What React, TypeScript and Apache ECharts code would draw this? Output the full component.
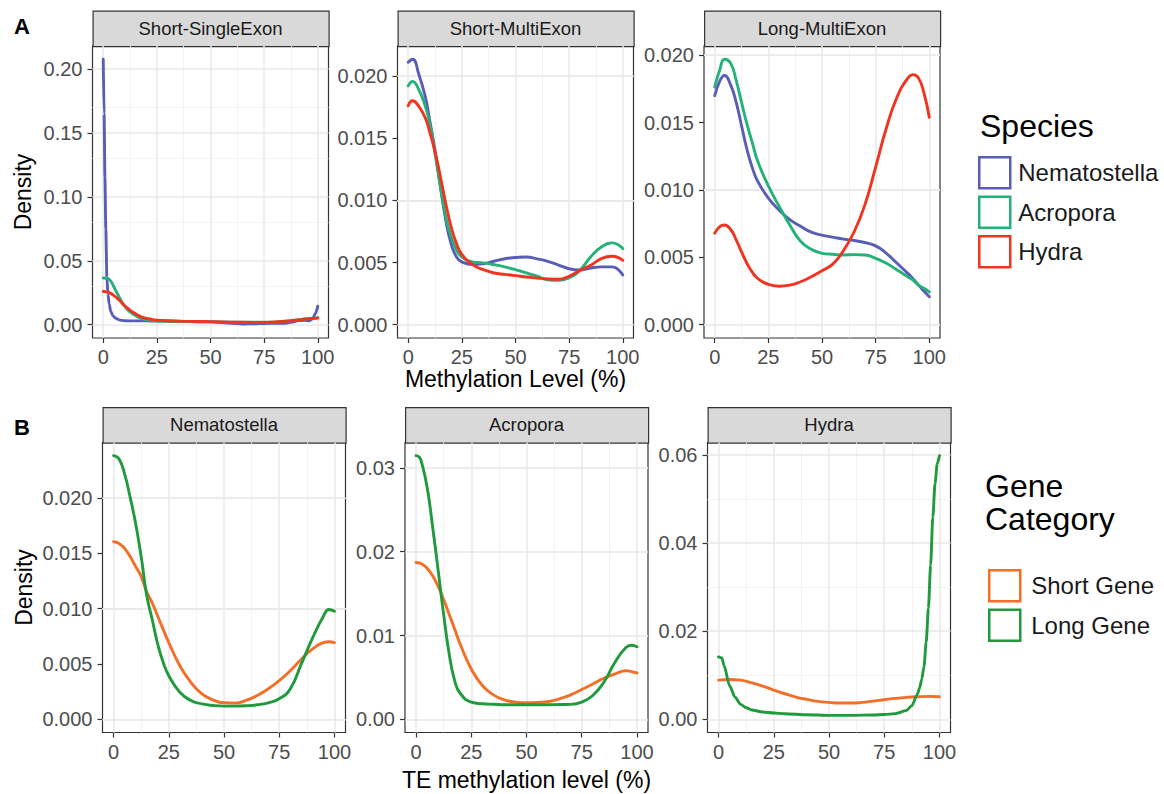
import { useEffect, useRef } from "react";
import * as echarts from "echarts";

const FONT = "'Liberation Sans', Arial, Helvetica, sans-serif";

// ---------- categories / labels ----------
const speciesNames = ["Nematostella", "Acropora", "Hydra"];
const speciesColors = ["#5a5db5", "#24b27a", "#f0341f"];
const geneNames = ["Short Gene", "Long Gene"];
const geneColors = ["#f36e26", "#1f9a3d"];
const rowATitles = ["Short-SingleExon", "Short-MultiExon", "Long-MultiExon"];
const rowBTitles = ["Nematostella", "Acropora", "Hydra"];
const xTicks = [0, 25, 50, 75, 100];
const xMinor = [12.5, 37.5, 62.5, 87.5];
const yTicksA1 = [0, 0.05, 0.1, 0.15, 0.2];
const yTicksA2 = [0, 0.005, 0.01, 0.015, 0.02];
const yTicksA3 = [0, 0.005, 0.01, 0.015, 0.02];
const yTicksB1 = [0, 0.005, 0.01, 0.015, 0.02];
const yTicksB2 = [0, 0.01, 0.02, 0.03];
const yTicksB3 = [0, 0.02, 0.04, 0.06];

// ---------- A1 Short-SingleExon ----------
const a1NemaX = [0, 0.4, 0.8, 1.2, 1.7, 2.2, 2.8, 3.5, 4.5, 5.6, 7.5, 10, 15, 20, 25, 30, 40, 50, 60, 65, 70, 75, 80, 85, 88, 91, 94, 96, 97.5, 99, 100];
const a1NemaY = [0.2075, 0.165, 0.115, 0.075, 0.037, 0.024, 0.016, 0.0105, 0.007, 0.0052, 0.0038, 0.0031, 0.003, 0.003, 0.0029, 0.0027, 0.0024, 0.0022, 0.0012, 0.0006, 0.0007, 0.001, 0.0012, 0.0012, 0.002, 0.0032, 0.0035, 0.003, 0.0045, 0.009, 0.0145];
const a1AcroX = [0, 2, 3.5, 5, 7, 9.5, 11.5, 13.3, 15, 17.2, 19, 21.1, 25, 30, 40, 50, 60, 70, 80, 85, 90, 95, 100];
const a1AcroY = [0.0365, 0.0362, 0.034, 0.0295, 0.023, 0.0158, 0.0115, 0.0091, 0.0072, 0.0052, 0.0043, 0.0036, 0.0031, 0.0028, 0.0024, 0.0022, 0.002, 0.0019, 0.002, 0.0028, 0.0038, 0.0048, 0.0055];
const a1HydrX = [0, 2, 3.3, 5, 6.4, 8, 9.5, 11.5, 13.3, 15, 17.2, 19, 21.1, 25, 29.6, 40, 50, 60, 70, 75, 80, 85, 90, 95, 100];
const a1HydrY = [0.026, 0.0257, 0.0247, 0.0228, 0.0208, 0.0183, 0.0156, 0.0128, 0.0104, 0.0086, 0.0065, 0.0054, 0.0047, 0.0036, 0.0031, 0.0026, 0.0024, 0.002, 0.0018, 0.0018, 0.0022, 0.0027, 0.0035, 0.0045, 0.0052];

// ---------- A2 Short-MultiExon ----------
const a2X = [0, 2, 5, 8, 10, 12.5, 15, 17.5, 20, 22.5, 25, 30, 35, 40, 45, 50, 55, 60, 65, 70, 75, 80, 85, 90, 95, 100];
const a2Nema = [0.0211, 0.02134, 0.0201, 0.0183, 0.01646, 0.014, 0.0111, 0.0084, 0.0065, 0.00545, 0.00505, 0.00483, 0.0049, 0.0051, 0.0053, 0.0054, 0.00545, 0.0053, 0.0051, 0.0048, 0.0045, 0.0044, 0.00456, 0.00465, 0.00465, 0.004];
const a2Acro = [0.0192, 0.01955, 0.01887, 0.01753, 0.0162, 0.01377, 0.0111, 0.00867, 0.00706, 0.006, 0.00545, 0.00505, 0.00497, 0.00483, 0.00465, 0.00443, 0.00416, 0.0039, 0.00362, 0.00357, 0.00378, 0.00437, 0.00545, 0.00625, 0.00658, 0.00612];
const a2Hydr = [0.0176, 0.018, 0.01753, 0.0166, 0.0155, 0.0139, 0.0119, 0.00975, 0.00787, 0.00652, 0.00566, 0.00483, 0.00443, 0.00416, 0.00405, 0.00395, 0.00384, 0.00376, 0.00368, 0.00365, 0.0039, 0.00437, 0.00478, 0.00532, 0.0055, 0.00518];

// ---------- A3 Long-MultiExon ----------
const a3X = [0, 2.5, 4.5, 7.5, 10, 12.5, 15, 17.5, 20, 25, 30, 35, 40, 45, 50, 55, 60, 65, 70, 75, 80, 85, 90, 92.5, 95, 97.5, 100];
const a3Nema = [0.017, 0.01813, 0.0185, 0.01776, 0.0165, 0.01477, 0.01303, 0.01166, 0.01066, 0.0094, 0.0085, 0.0078, 0.0073, 0.00687, 0.00665, 0.0065, 0.00635, 0.00625, 0.0061, 0.00585, 0.0053, 0.00456, 0.00381, 0.0034, 0.00294, 0.0025, 0.00207];
const a3Acro = [0.01763, 0.019, 0.0197, 0.01938, 0.01813, 0.0165, 0.0149, 0.01352, 0.01215, 0.0103, 0.0088, 0.0074, 0.0062, 0.0056, 0.0053, 0.00523, 0.00518, 0.0052, 0.00518, 0.00493, 0.00456, 0.00406, 0.00356, 0.0033, 0.00294, 0.0027, 0.00244];
const a3Hydr = [0.0068, 0.0073, 0.0074, 0.00705, 0.0063, 0.0054, 0.00456, 0.0039, 0.00344, 0.00299, 0.00286, 0.00294, 0.00319, 0.00356, 0.00401, 0.0045, 0.0055, 0.0069, 0.0089, 0.0117, 0.0146, 0.0169, 0.0183, 0.01856, 0.0183, 0.0172, 0.0154];

// ---------- B1 Nematostella ----------
const b1X = [0, 2.5, 5, 7.5, 10, 12.5, 15, 17.5, 20, 22.5, 25, 30, 35, 40, 45, 50, 55, 60, 65, 70, 75, 80, 85, 90, 95, 97.5, 100];
const b1Short = [0.01603, 0.01588, 0.01543, 0.01469, 0.01379, 0.0129, 0.0115, 0.01051, 0.00931, 0.0081, 0.00693, 0.00484, 0.00334, 0.0023, 0.00176, 0.00149, 0.00146, 0.0017, 0.00215, 0.00275, 0.00349, 0.00439, 0.00543, 0.00633, 0.00693, 0.007, 0.00693];
const b1Long = [0.0238, 0.0235, 0.02215, 0.02006, 0.01767, 0.01469, 0.0112, 0.00901, 0.00678, 0.00513, 0.00394, 0.00245, 0.0017, 0.0014, 0.00125, 0.00119, 0.00119, 0.00122, 0.00131, 0.00149, 0.00185, 0.00275, 0.005, 0.0073, 0.00931, 0.00991, 0.00976];

// ---------- B2 Acropora ----------
const b2X = [0, 1.5, 2.5, 5, 7.5, 10, 12.5, 15, 17.5, 20, 25, 30, 35, 40, 45, 50, 55, 60, 65, 70, 75, 80, 85, 90, 95, 97.5, 100];
const b2Short = [0.01871, 0.01865, 0.01855, 0.01804, 0.01713, 0.01587, 0.01429, 0.01252, 0.01074, 0.00896, 0.006, 0.00403, 0.00292, 0.00233, 0.00205, 0.00197, 0.00201, 0.00213, 0.00245, 0.00292, 0.00355, 0.00422, 0.0049, 0.00541, 0.0058, 0.0057, 0.00553];
const b2Long = [0.03146, 0.03127, 0.03067, 0.02771, 0.02298, 0.0178, 0.0125, 0.0078, 0.0046, 0.0031, 0.00205, 0.00186, 0.0018, 0.00174, 0.00174, 0.00174, 0.00174, 0.00174, 0.00176, 0.00178, 0.00205, 0.00284, 0.00442, 0.00679, 0.00857, 0.00884, 0.00865];

// ---------- B3 Hydra ----------
const b3ShortX = [0, 5, 10, 15, 20, 25, 30, 35, 40, 45, 50, 55, 60, 65, 70, 75, 80, 85, 90, 95, 100];
const b3Short = [0.00889, 0.00904, 0.00889, 0.00828, 0.00753, 0.00663, 0.0058, 0.00505, 0.00452, 0.00407, 0.00384, 0.00369, 0.00369, 0.00384, 0.00414, 0.00444, 0.00474, 0.00497, 0.00512, 0.0052, 0.00512];
const b3LongX = [0, 1.5, 2.5, 5, 7.5, 10, 12.5, 15, 20, 25, 30, 40, 50, 60, 70, 75, 80, 85, 87.5, 90, 91, 92, 93, 94, 95, 96, 97, 98, 99, 100];
const b3Long = [0.01416, 0.01393, 0.0122, 0.0076, 0.005, 0.00339, 0.00264, 0.00211, 0.00166, 0.00143, 0.00128, 0.00105, 0.0009, 0.0009, 0.00098, 0.00108, 0.0013, 0.002, 0.0031, 0.0057, 0.0071, 0.0091, 0.012, 0.0175, 0.0252, 0.035, 0.0459, 0.0535, 0.058, 0.0598];

type Line = { name: string; color: string; xs: number[]; ys: number[]; sharp?: boolean };
type Panel = {
  title: string;
  yTicks: number[];
  decimals: number;
  lines: Line[];
  left: number;
  top: number;
  width: number;
  height: number;
  yName?: string;
  yNameGap?: number;
  xName?: string;
  xNameGap?: number;
};

const A_TOP = 46, A_H = 292, A_W = 236;
const B_TOP = 442.5, B_H = 290, B_W = 243;
const STRIP_H = 35.5;

const panels: Panel[] = [
  {
    title: rowATitles[0], yTicks: yTicksA1, decimals: 2, left: 92.5, top: A_TOP, width: A_W, height: A_H,
    yName: "Density", yNameGap: 58,
    lines: [
      { name: speciesNames[0], color: speciesColors[0], xs: a1NemaX, ys: a1NemaY, sharp: true },
      { name: speciesNames[1], color: speciesColors[1], xs: a1AcroX, ys: a1AcroY },
      { name: speciesNames[2], color: speciesColors[2], xs: a1HydrX, ys: a1HydrY },
    ],
  },
  {
    title: rowATitles[1], yTicks: yTicksA2, decimals: 3, left: 397.5, top: A_TOP, width: A_W, height: A_H,
    xName: "Methylation Level (%)", xNameGap: 29,
    lines: [
      { name: speciesNames[0], color: speciesColors[0], xs: a2X, ys: a2Nema },
      { name: speciesNames[1], color: speciesColors[1], xs: a2X, ys: a2Acro },
      { name: speciesNames[2], color: speciesColors[2], xs: a2X, ys: a2Hydr },
    ],
  },
  {
    title: rowATitles[2], yTicks: yTicksA3, decimals: 3, left: 704, top: A_TOP, width: A_W, height: A_H,
    lines: [
      { name: speciesNames[0], color: speciesColors[0], xs: a3X, ys: a3Nema },
      { name: speciesNames[1], color: speciesColors[1], xs: a3X, ys: a3Acro },
      { name: speciesNames[2], color: speciesColors[2], xs: a3X, ys: a3Hydr },
    ],
  },
  {
    title: rowBTitles[0], yTicks: yTicksB1, decimals: 3, left: 102.5, top: B_TOP, width: B_W, height: B_H,
    yName: "Density", yNameGap: 67,
    lines: [
      { name: geneNames[0], color: geneColors[0], xs: b1X, ys: b1Short },
      { name: geneNames[1], color: geneColors[1], xs: b1X, ys: b1Long },
    ],
  },
  {
    title: rowBTitles[1], yTicks: yTicksB2, decimals: 2, left: 405, top: B_TOP, width: B_W, height: B_H,
    xName: "TE methylation level (%)", xNameGap: 36,
    lines: [
      { name: geneNames[0], color: geneColors[0], xs: b2X, ys: b2Short },
      { name: geneNames[1], color: geneColors[1], xs: b2X, ys: b2Long },
    ],
  },
  {
    title: rowBTitles[2], yTicks: yTicksB3, decimals: 2, left: 707.5, top: B_TOP, width: B_W, height: B_H,
    lines: [
      { name: geneNames[0], color: geneColors[0], xs: b3ShortX, ys: b3Short },
      { name: geneNames[1], color: geneColors[1], xs: b3LongX, ys: b3Long, sharp: true },
    ],
  },
];

const MAJOR = { color: "#e8e8e8", width: 1.5, type: "solid" as const };
const MINOR = { color: "#f2f2f2", width: 0.9, type: "solid" as const };

function buildOption() {
  const grid: any[] = [];
  const xAxis: any[] = [];
  const yAxis: any[] = [];
  const series: any[] = [];
  const graphic: any[] = [];

  panels.forEach((p, i) => {
    const maxV = Math.max(...p.lines.flatMap((l) => l.ys));
    const pad = maxV * 0.05;
    const yMin = -pad;
    const yMax = maxV + pad;
    const step = p.yTicks[1] - p.yTicks[0];
    const yMinor: number[] = [];
    for (let k = 0; k < p.yTicks.length; k++) {
      const m = p.yTicks[k] + step / 2;
      if (m <= yMax) yMinor.push(m);
    }

    grid.push({
      left: p.left, top: p.top, width: p.width, height: p.height,
      show: true, borderColor: "#333333", borderWidth: 1.2, backgroundColor: "#ffffff",
      containLabel: false, outerBoundsMode: "none",
    });

    xAxis.push({
      type: "value", gridIndex: i, min: -5, max: 105,
      axisLine: { show: false, onZero: false },
      axisTick: { show: true, length: 5, customValues: xTicks, lineStyle: { color: "#333333", width: 1.2 } },
      axisLabel: { customValues: xTicks, fontSize: 20, color: "#4d4d4d", margin: 9, fontFamily: FONT, formatter: (v: number) => String(v) },
      splitLine: { show: false },
      name: p.xName || "", nameLocation: "middle", nameGap: p.xNameGap || 30,
      nameTextStyle: { fontSize: 23, color: "#000", fontFamily: FONT },
    });

    yAxis.push({
      type: "value", gridIndex: i, min: yMin, max: yMax,
      axisLine: { show: false, onZero: false },
      axisTick: { show: true, length: 5, customValues: p.yTicks, lineStyle: { color: "#333333", width: 1.2 } },
      axisLabel: { customValues: p.yTicks, fontSize: 20, color: "#4d4d4d", margin: 10, fontFamily: FONT, formatter: (v: number) => v.toFixed(p.decimals) },
      splitLine: { show: false },
      name: p.yName || "", nameLocation: "middle", nameGap: p.yNameGap || 50, nameRotate: 90,
      nameTextStyle: { fontSize: 23, color: "#000", fontFamily: FONT },
    });

    const ml: any[] = [];
    yMinor.forEach((v) => ml.push({ yAxis: v, lineStyle: MINOR }));
    xMinor.forEach((v) => ml.push({ xAxis: v, lineStyle: MINOR }));
    p.yTicks.forEach((v) => ml.push({ yAxis: v, lineStyle: MAJOR }));
    xTicks.forEach((v) => ml.push({ xAxis: v, lineStyle: MAJOR }));

    series.push({
      type: "line", name: "grid" + i, xAxisIndex: i, yAxisIndex: i, data: [], z: 1, silent: true,
      markLine: {
        silent: true, symbol: ["none", "none"], label: { show: false }, emphasis: { disabled: true },
        animation: false, z: 1, data: ml,
      },
    });

    p.lines.forEach((l) => {
      series.push({
        type: "line", name: l.name, xAxisIndex: i, yAxisIndex: i,
        data: l.xs.map((x, k) => [x, l.ys[k]]),
        showSymbol: false, symbol: "none",
        smooth: l.sharp ? 0.25 : 0.5,
        smoothMonotone: l.sharp ? "x" : undefined,
        lineStyle: { color: l.color, width: 2.9, cap: "round", join: "round" }, itemStyle: { color: l.color },
        z: 3, silent: true, emphasis: { disabled: true },
      });
    });

    // facet strip
    graphic.push({
      type: "rect", left: p.left, top: p.top - STRIP_H, silent: true,
      shape: { width: p.width, height: STRIP_H },
      style: { fill: "#d9d9d9", stroke: "#333333", lineWidth: 1.2 },
    });
    graphic.push({
      type: "text", x: p.left + p.width / 2, y: p.top - STRIP_H / 2, silent: true,
      style: { text: p.title, fill: "#1a1a1a", font: `18.5px ${FONT}`, align: "center", verticalAlign: "middle" },
    });
  });

  graphic.push({ type: "text", x: 14, y: 26, style: { text: "A", fill: "#000", font: `bold 22px ${FONT}`, verticalAlign: "middle" } });
  graphic.push({ type: "text", x: 14, y: 427, style: { text: "B", fill: "#000", font: `bold 22px ${FONT}`, verticalAlign: "middle" } });
  graphic.push({ type: "text", x: 980, y: 126, style: { text: "Species", fill: "#000", font: `32px ${FONT}`, verticalAlign: "middle" } });
  graphic.push({ type: "text", x: 985, y: 502, style: { text: "Gene\nCategory", fill: "#000", font: `32px ${FONT}`, lineHeight: 33, verticalAlign: "middle" } });

  const legendCommon = {
    orient: "vertical", icon: "rect", itemWidth: 31, itemHeight: 31, itemGap: 6,
    selectedMode: false,
    textStyle: { fontSize: 24, color: "#1a1a1a", fontFamily: FONT, padding: [0, 0, 0, 3] },
  };

  const legend = [
    {
      ...legendCommon, left: 973, top: 151,
      data: speciesNames.map((n, k) => ({ name: n, itemStyle: { color: "#ffffff", borderColor: speciesColors[k], borderWidth: 2.5 } })),
    },
    {
      ...legendCommon, left: 983, top: 564,
      textStyle: { ...legendCommon.textStyle, padding: [0, 0, 0, 6] },
      data: geneNames.map((n, k) => ({ name: n, itemStyle: { color: "#ffffff", borderColor: geneColors[k], borderWidth: 2.5 } })),
    },
  ];

  return {
    animation: false,
    backgroundColor: "#ffffff",
    textStyle: { fontFamily: FONT },
    grid, xAxis, yAxis, series, graphic, legend,
  };
}

export default function App() {
  const ref = useRef<HTMLDivElement>(null);
  useEffect(() => {
    if (!ref.current) return;
    const chart = echarts.init(ref.current, null, { renderer: "svg" });
    chart.setOption(buildOption() as any);
    return () => chart.dispose();
  }, []);
  return (
    <div
      ref={ref}
      style={{ position: "absolute", left: 0, top: 0, width: 1164, height: 794, background: "#fff" }}
    />
  );
}
